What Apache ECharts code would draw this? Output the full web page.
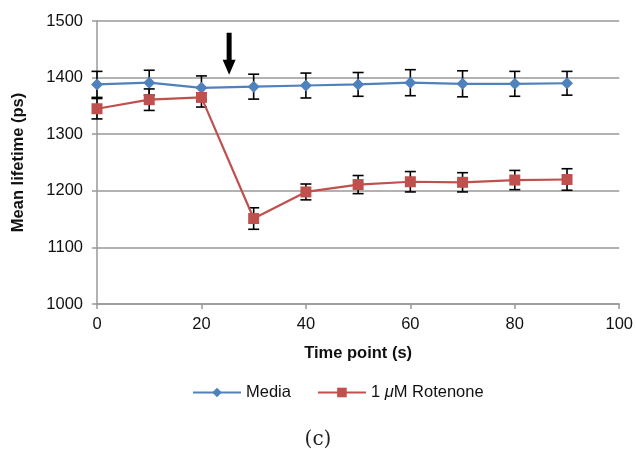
<!DOCTYPE html>
<html>
<head>
<meta charset="utf-8">
<script src="https://cdn.jsdelivr.net/npm/echarts@6/dist/echarts.min.js"></script>
<style>
  html, body { margin: 0; padding: 0; background: #fff; }
  #chart { width: 636px; height: 449px; }
</style>
</head>
<body>
<div id="chart"></div>
<script>
// data
var timePoints = [0, 10, 20, 30, 40, 50, 60, 70, 80, 90];
var mediaMean = [1388, 1391, 1382, 1384, 1386, 1388, 1391, 1389, 1389, 1390];
var mediaErr  = [23, 22, 21, 22, 22, 21, 23, 23, 22, 21];
var rotMean   = [1345, 1361, 1365, 1151, 1198, 1211, 1216, 1215, 1219, 1220];
var rotErr    = [18, 19, 17, 19, 14, 16, 18, 17, 17, 19];
var yTicks = { min: 1000, max: 1500, step: 100 };
var xTicks = { min: 0, max: 100, step: 20 };
var arrowAt = [25.3, 1442];

var FONT = '"Liberation Sans", Arial, sans-serif';
var BLUE = '#4F81BD';
var RED = '#C0504D';

function pairs(xs, ys) {
  return xs.map(function (x, i) { return [x, ys[i]]; });
}
function errRows(xs, m, e) {
  return xs.map(function (x, i) { return [x, m[i] - e[i], m[i] + e[i]]; });
}

function renderErr(params, api) {
  var x = api.value(0);
  var lo = api.coord([x, api.value(1)]);
  var hi = api.coord([x, api.value(2)]);
  var w = 5.5;
  var st = { stroke: '#000', lineWidth: 1.6 };
  return {
    type: 'group',
    children: [
      { type: 'line', shape: { x1: hi[0], y1: hi[1], x2: lo[0], y2: lo[1] }, style: st },
      { type: 'line', shape: { x1: hi[0] - w, y1: hi[1], x2: hi[0] + w, y2: hi[1] }, style: st },
      { type: 'line', shape: { x1: lo[0] - w, y1: lo[1], x2: lo[0] + w, y2: lo[1] }, style: st }
    ]
  };
}

var chart = echarts.init(document.getElementById('chart'));
chart.setOption({
  animation: false,
  backgroundColor: '#fff',
  title: {
    text: '(c)',
    left: 'center',
    bottom: -6,
    textStyle: { fontFamily: '"DejaVu Serif", "Liberation Serif", serif', fontWeight: 'normal', fontSize: 20, color: '#222' }
  },
  grid: { left: 97, right: 16, top: 21, bottom: 145 },
  legend: {
    bottom: 43,
    left: 187,
    itemWidth: 48,
    itemHeight: 12,
    itemGap: 26,
    textStyle: {
      fontFamily: FONT, fontSize: 16.5, color: '#111',
      rich: { i: { fontFamily: FONT, fontSize: 16.5, fontStyle: 'italic', color: '#111' } }
    },
    formatter: function (name) {
      return name === 'Rotenone' ? '1 {i|\u03bc}M Rotenone' : name;
    },
    data: ['Media', 'Rotenone']
  },
  xAxis: {
    type: 'value',
    min: xTicks.min, max: xTicks.max, interval: xTicks.step,
    name: 'Time point (s)',
    nameLocation: 'middle',
    nameGap: 41,
    nameTextStyle: { fontFamily: FONT, fontSize: 16.5, fontWeight: 'bold', color: '#111' },
    axisLine: { lineStyle: { color: '#999', width: 1.5 } },
    axisTick: { show: true, length: 5, lineStyle: { color: '#999', width: 1.5 } },
    axisLabel: { fontFamily: FONT, fontSize: 16.5, color: '#111', margin: 12 },
    splitLine: { show: false }
  },
  yAxis: {
    type: 'value',
    min: yTicks.min, max: yTicks.max, interval: yTicks.step,
    name: 'Mean lifetime (ps)',
    nameLocation: 'middle',
    nameGap: 70,
    nameTextStyle: { fontFamily: FONT, fontSize: 16.5, fontWeight: 'bold', color: '#111' },
    axisLine: { show: true, lineStyle: { color: '#999', width: 1.5 } },
    axisTick: { show: true, length: 5, lineStyle: { color: '#999', width: 1.5 } },
    axisLabel: {
      fontFamily: FONT, fontSize: 16.5, color: '#111', margin: 14,
      formatter: function (v) { return String(v); }
    },
    splitLine: { show: true, lineStyle: { color: '#999', width: 1.5 } }
  },
  series: [
    {
      type: 'custom', name: 'mediaErr', renderItem: renderErr,
      data: errRows(timePoints, mediaMean, mediaErr), z: 2, silent: true
    },
    {
      type: 'custom', name: 'rotErr', renderItem: renderErr,
      data: errRows(timePoints, rotMean, rotErr), z: 2, silent: true
    },
    {
      name: 'Media', type: 'line', data: pairs(timePoints, mediaMean),
      symbol: 'diamond', symbolSize: 12, z: 3,
      lineStyle: { color: BLUE, width: 2.2 },
      itemStyle: { color: BLUE }
    },
    {
      name: 'Rotenone', type: 'line', data: pairs(timePoints, rotMean),
      symbol: 'rect', symbolSize: 11, z: 3,
      lineStyle: { color: RED, width: 2.2 },
      itemStyle: { color: RED }
    },
    {
      name: 'arrow', type: 'scatter', data: [arrowAt], z: 4, silent: true,
      symbol: 'path://M4,0 H9 V27 H13 L6.5,42 L0,27 H4 Z',
      symbolSize: [13, 42],
      itemStyle: { color: '#000', opacity: 1 }
    }
  ]
});
</script>
</body>
</html>
